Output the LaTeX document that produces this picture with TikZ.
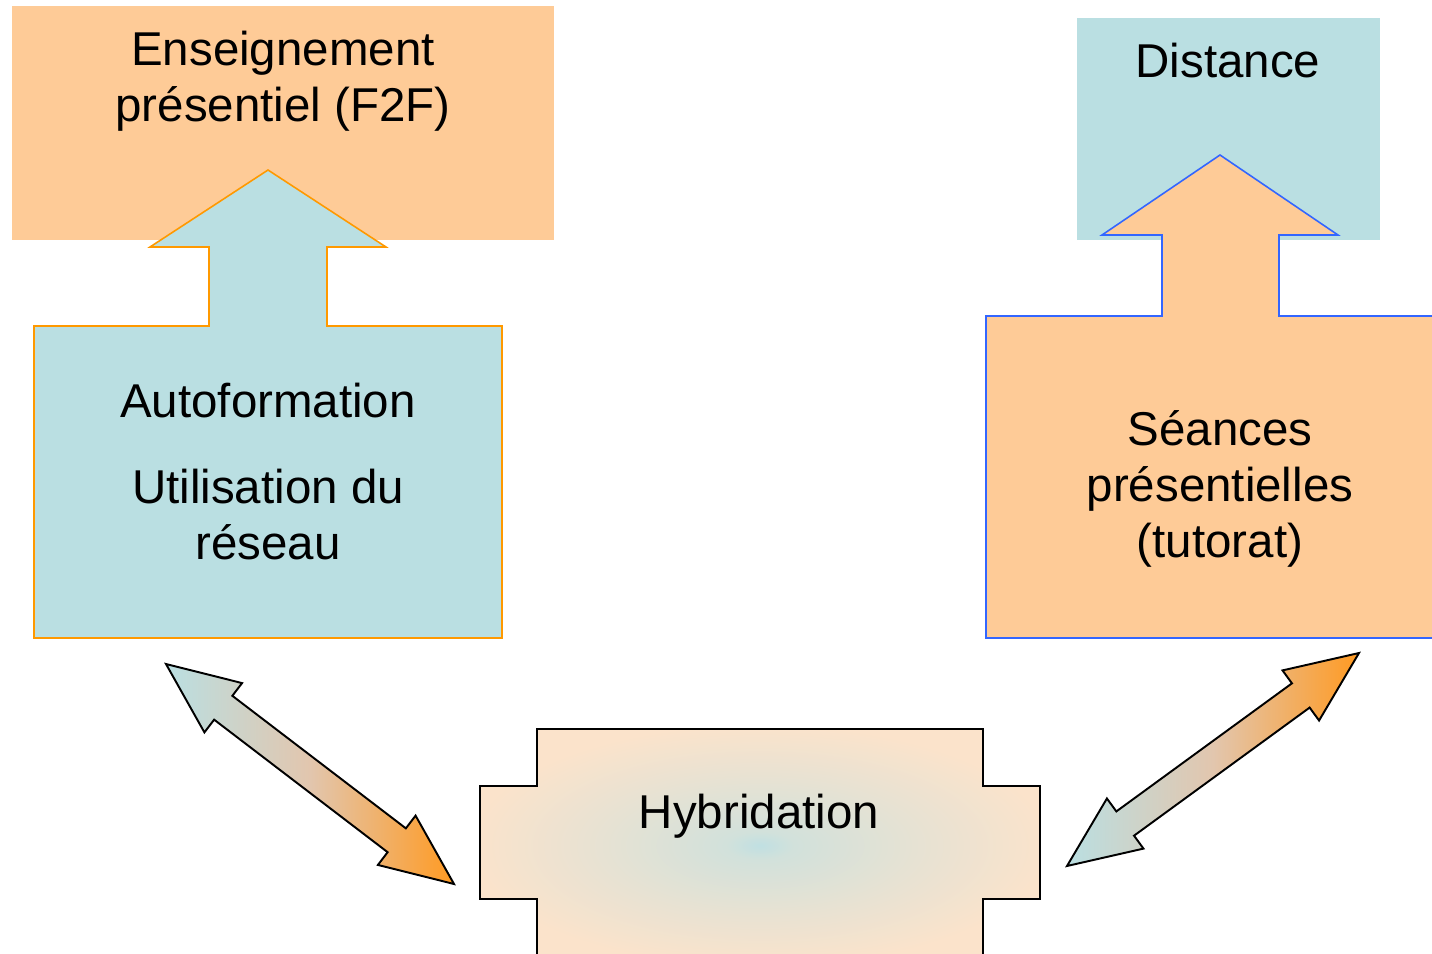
\documentclass[tikz,border=0pt]{standalone}
\usepackage{fontspec}
\setmainfont{Liberation Sans}
\usepackage{xcolor}
\usetikzlibrary{calc}

\definecolor{peach}{HTML}{FECB97}
\definecolor{paleblue}{HTML}{BADFE2}
\definecolor{calloutorange}{HTML}{FF9900}
\definecolor{calloutblue}{HTML}{3366FF}
\definecolor{hybpeach}{HTML}{FBE3CB}
\definecolor{hybcentre}{HTML}{C0E0E2}
\definecolor{arroworange}{HTML}{FF9A22}
\definecolor{arrowmid}{HTML}{E2C6AE}

\pgfdeclareradialshading{hybglow}{\pgfpoint{0bp}{0bp}}{color(0bp)=(hybcentre); color(3bp)=(hybcentre!70!hybpeach); color(14bp)=(hybcentre!35!hybpeach); color(26bp)=(hybpeach); color(50bp)=(hybpeach)}

\tikzset{
  slidetext/.style={font=\fontsize{13.5pt}{15.9pt}\selectfont, align=center, anchor=base, inner sep=0pt},
  fat arrow/.style={draw=black, line width=0.55pt, left color=paleblue, right color=arroworange, middle color=arrowmid},
}

% fat double arrow between two named points
\newcommand{\dblarrow}[2]{%
  \path ($(#1)!0.72cm!(#2)$) coordinate (#1h)
        ($(#2)!0.72cm!(#1)$) coordinate (#2h);
  \shade[fat arrow] (#1)
    -- ($(#1h)!0.31cm!90:(#1)$) -- ($(#1h)!0.15cm!90:(#1)$)
    -- ($(#2h)!0.15cm!-90:(#2)$) -- ($(#2h)!0.31cm!-90:(#2)$)
    -- (#2)
    -- ($(#2h)!0.31cm!90:(#2)$) -- ($(#2h)!0.15cm!90:(#2)$)
    -- ($(#1h)!0.15cm!-90:(#1)$) -- ($(#1h)!0.31cm!-90:(#1)$)
    -- cycle;
}

\begin{document}
\begin{tikzpicture}[x=0.01cm, y=-0.01cm]
    \useasboundingbox (0,0) rectangle (1432,954);

    % Top boxes
    \fill[peach] (12,6) rectangle (554,240);
    \fill[paleblue] (1077,18) rectangle (1380,240);

    % Left callout (up arrow)
    \filldraw[fill=paleblue, draw=calloutorange, line width=0.45pt]
        (34,638) -- (34,326) -- (209,326) -- (209,247) -- (150,247) -- (268,170)
        -- (386,247) -- (327,247) -- (327,326) -- (502,326) -- (502,638) -- cycle;

    % Right callout (up arrow)
    \filldraw[fill=peach, draw=calloutblue, line width=0.45pt]
        (1450,638) -- (986,638) -- (986,316) -- (1162,316) -- (1162,235) -- (1102,235)
        -- (1220,155) -- (1338,235) -- (1279,235) -- (1279,316) -- (1450,316) -- cycle;

    % Hybridation cross
    \shade[shading=hybglow, draw=black, line width=0.5pt]
        (537,962) -- (537,899) -- (480,899) -- (480,786) -- (537,786) -- (537,729)
        -- (983,729) -- (983,786) -- (1040,786) -- (1040,899) -- (983,899) -- (983,962) -- cycle;

    % Labels (base = last line)
    \node[slidetext] (f2f) at (283,121) {Enseignement\\présentiel (F2F)};
    \node[slidetext] (distance) at (1228,77) {Distance};
    \node[slidetext] (autoformation) at (268,559) {Autoformation\\[8.5pt]Utilisation du\\réseau};
    \node[slidetext] (seances) at (1220,557) {Séances\\présentielles\\(tutorat)};
    \node[slidetext] (hybridation) at (759,828) {Hybridation};

    % Double arrows
    \coordinate (autoTip) at (166,664);
    \coordinate (hybLeft) at (454,884);
    \coordinate (hybRight) at (1067,866);
    \coordinate (seanceTip) at (1359,653);
    \dblarrow{autoTip}{hybLeft}
    \dblarrow{hybRight}{seanceTip}
\end{tikzpicture}
\end{document}
